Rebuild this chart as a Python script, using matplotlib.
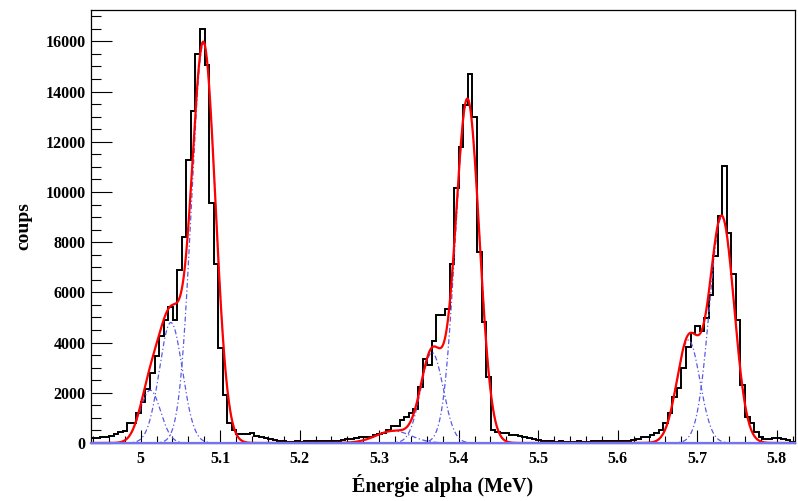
import numpy as np
import matplotlib
matplotlib.use("Agg")
import matplotlib.pyplot as plt
from matplotlib.ticker import MultipleLocator, FuncFormatter

# histogram: 155 bins from 4.9375 to 5.823 MeV
x_min = 4.9375
x_max = 5.823
counts = [
    190, 190, 230, 250, 290, 345, 450, 460, 785, 800,          # 0-9
    1180, 1640, 2150, 2800, 3450, 4250, 4900, 5420, 4900, 6880,  # 10-19
    8200, 11260, 13220, 15500, 16500, 15070, 9560, 7120, 3780, 1910,  # 20-29
    800, 520, 340, 340, 350, 380, 290, 240, 200, 150,          # 30-39
    110, 80, 60, 55, 55, 60, 55, 60, 65, 60,                   # 40-49
    70, 75, 90, 90, 90, 100, 150, 150, 200, 220,               # 50-59
    250, 250, 330, 360, 410, 520, 677, 690, 915, 1050,         # 60-69
    1180, 1340, 2240, 3330, 3100, 4060, 5090, 5090, 5320, 7150,  # 70-79
    10140, 11790, 13450, 14710, 12990, 7590, 4830, 2640, 520, 420,  # 80-89
    385, 385, 300, 300, 280, 250, 210, 150, 110, 80,           # 90-99
    70, 60, 55, 60, 50, 55, 50, 60, 55, 50,                    # 100-109
    60, 65, 60, 70, 75, 85, 90, 92, 92, 120,                   # 110-119
    160, 250, 250, 300, 385, 520, 800, 1180, 1840, 2200,       # 120-129
    3000, 3830, 4390, 4660, 4470, 4960, 5890, 7440, 9030, 11020,  # 130-139
    8350, 6750, 4900, 2310, 1050, 800, 450, 225, 147, 147,     # 140-149
    210, 210, 147, 100, 52,                                    # 150-154
]

# fitted gaussian components
comp_mu = [5.012, 5.038, 5.079, 5.318, 5.3665, 5.411, 5.689, 5.731]
comp_sigma = [0.013, 0.0145, 0.015, 0.022, 0.014, 0.015, 0.0145, 0.0155]
comp_amp = [2100, 4800, 15900, 480, 3600, 13700, 4100, 9000]

y_max = 17250

plt.rcParams['font.family'] = ['Liberation Serif', 'DejaVu Serif']
plt.rcParams['font.weight'] = 'bold'

fig = plt.figure(figsize=(7.98, 5.01), dpi=100)
ax = fig.add_axes([0.114, 0.1158, 0.8822, 0.8642])

edges = np.linspace(x_min, x_max, len(counts) + 1)
ax.stairs(counts, edges, color='black', linewidth=1.4, baseline=None, zorder=2)

xs = np.linspace(x_min, x_max, 3000)
total = np.zeros_like(xs)
for mu, sg, a in zip(comp_mu, comp_sigma, comp_amp):
    g = a * np.exp(-0.5 * ((xs - mu) / sg) ** 2)
    total += g
    # don't redraw the dashes along zero, the baseline line below does that
    g_vis = np.where(g > 2, g, np.nan)
    ax.plot(xs, g_vis, color='#5a5ae6', linewidth=0.9, linestyle=(0, (4, 2, 1, 2)), zorder=3)
ax.plot(xs, total, color='red', linewidth=1.6, zorder=4)
ax.axhline(0, color='#7474f2', linewidth=1.6, zorder=5, clip_on=False)

ax.set_xlim(x_min, x_max)
ax.set_ylim(0, y_max)

ax.xaxis.set_major_locator(MultipleLocator(0.1))
ax.xaxis.set_minor_locator(MultipleLocator(0.02))
ax.yaxis.set_major_locator(MultipleLocator(2000))
ax.yaxis.set_minor_locator(MultipleLocator(500))
ax.xaxis.set_major_formatter(FuncFormatter(lambda v, p: '%g' % round(v, 3)))
ax.yaxis.set_major_formatter(FuncFormatter(lambda v, p: '%d' % v))

ax.tick_params(axis='both', which='both', direction='in', width=0.8, labelsize=11.5)
ax.tick_params(axis='x', which='major', length=9.4, pad=6)
ax.tick_params(axis='x', which='minor', length=4.7)
ax.tick_params(axis='y', which='major', length=15, pad=4)
ax.tick_params(axis='y', which='minor', length=7.5)
for lab in ax.get_xticklabels() + ax.get_yticklabels():
    lab.set_fontweight('bold')

for s in ax.spines.values():
    s.set_linewidth(0.9)

ax.set_xlabel('Énergie alpha (MeV)', fontsize=14.5, fontweight='bold', labelpad=5)
ax.set_ylabel('coups', fontsize=14, fontweight='bold', labelpad=9)

fig.savefig('out.png', dpi=100)
